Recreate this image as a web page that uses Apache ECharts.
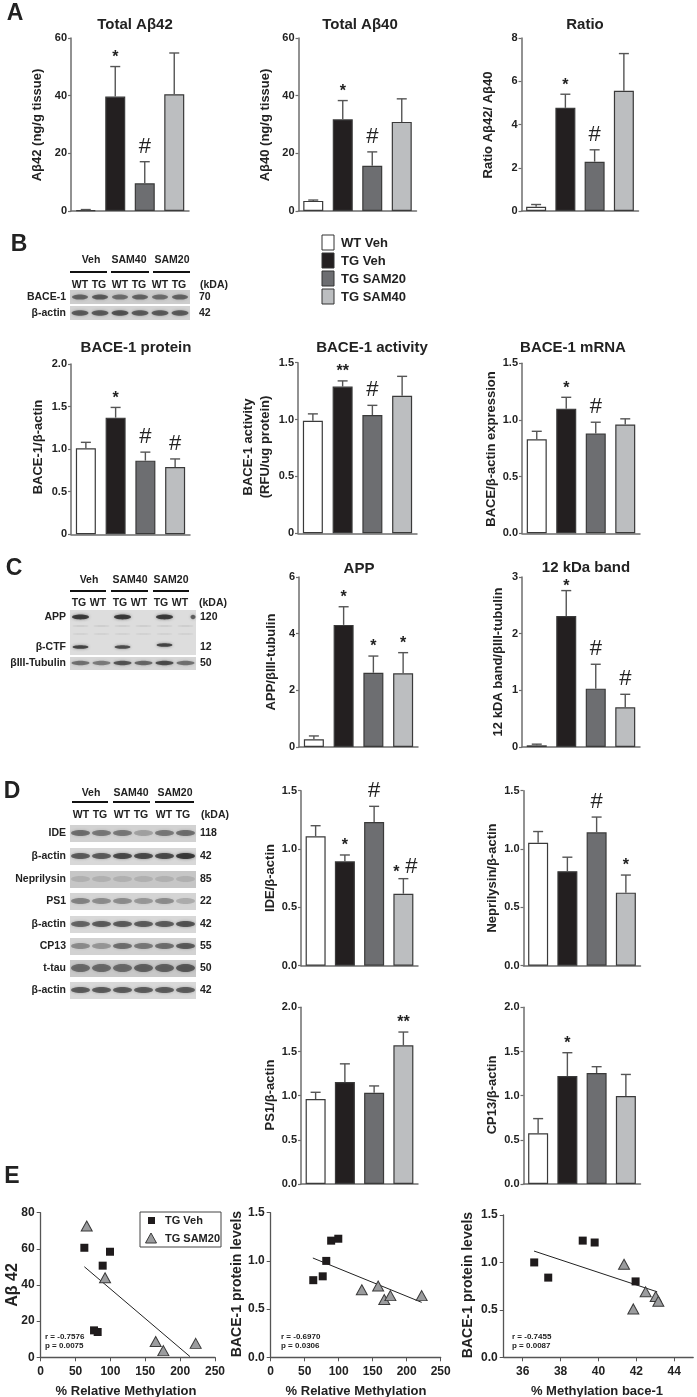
<!DOCTYPE html>
<html><head><meta charset="utf-8">
<script src="https://cdn.jsdelivr.net/npm/echarts@6/dist/echarts.min.js"></script>
<style>html,body{margin:0;padding:0;background:#fff}#c{width:697px;height:1397px}</style>
</head><body><div id="c"></div><script>
// ---------- DATA ----------
const groups = ['WT Veh', 'TG Veh', 'TG SAM20', 'TG SAM40'];

const ab42Mean = [0.3, 39.7, 9.6, 40.5];
const ab42Err  = [0.2, 10.4, 7.5, 14.3];
const ab42Sig  = ['', '*', '#', ''];
const ab40Mean = [3.5, 31.8, 15.7, 30.9];
const ab40Err  = [0.3, 6.5, 4.8, 8.0];
const ab40Sig  = ['', '*', '#', ''];
const ratioMean = [0.2, 4.77, 2.28, 5.56];
const ratioErr  = [0.1, 0.63, 0.55, 1.72];
const ratioSig  = ['', '*', '#', ''];

const baceProtMean = [1.01, 1.37, 0.865, 0.79];
const baceProtErr  = [0.07, 0.12, 0.10, 0.095];
const baceProtSig  = ['', '*', '#', '#'];
const baceActMean = [0.99, 1.29, 1.04, 1.21];
const baceActErr  = [0.06, 0.05, 0.085, 0.17];
const baceActSig  = ['', '**', '#', ''];
const baceMrnaMean = [0.83, 1.10, 0.88, 0.96];
const baceMrnaErr  = [0.07, 0.10, 0.10, 0.05];
const baceMrnaSig  = ['', '*', '#', ''];

const appMean = [0.27, 4.31, 2.62, 2.60];
const appErr  = [0.12, 0.64, 0.59, 0.73];
const appSig  = ['', '*', '*', '*'];
const band12Mean = [0.03, 2.31, 1.03, 0.70];
const band12Err  = [0.02, 0.45, 0.43, 0.23];
const band12Sig  = ['', '*', '#', '#'];

const ideMean = [1.11, 0.895, 1.232, 0.617];
const ideErr  = [0.09, 0.054, 0.134, 0.129];
const ideSig  = ['', '*', '#', '*#'];
const nepMean = [1.054, 0.81, 1.143, 0.626];
const nepErr  = [0.096, 0.12, 0.131, 0.151];
const nepSig  = ['', '', '#', '*'];
const ps1Mean = [0.962, 1.155, 1.033, 1.57];
const ps1Err  = [0.076, 0.205, 0.077, 0.15];
const ps1Sig  = ['', '', '', '**'];
const cp13Mean = [0.574, 1.222, 1.256, 0.996];
const cp13Err  = [0.166, 0.264, 0.072, 0.244];
const cp13Sig  = ['', '*', '', ''];

// correlation panels
const relMethVehX = [62.6, 76.5, 81.7, 88.9, 99.4];
const ab42VehY    = [60.6, 14.9, 14.0, 50.7, 58.4];
const relMethSamX = [66, 92.3, 164.9, 175.9, 222.3];
const ab42SamY    = [72.6, 44, 8.7, 3.7, 7.7];
const ab42Fit     = [[62.6, 50.1], [214.1, 0.4]];

const baceVehY     = [0.80, 0.84, 1.00, 1.21, 1.23];
const relMethSam2X = [134, 158, 167, 176, 222];
const baceSam2Y    = [0.70, 0.74, 0.60, 0.64, 0.64];
const baceFit2     = [[62, 1.03], [222, 0.57]];

const methBaceVehX = [36.61, 37.35, 39.17, 39.8, 41.96];
const baceVeh3Y    = [1.00, 0.84, 1.23, 1.21, 0.80];
const methBaceSamX = [41.35, 41.84, 42.49, 43.02, 43.16];
const baceSam3Y    = [0.98, 0.51, 0.69, 0.64, 0.59];
const baceFit3     = [[36.6, 1.12], [43.1, 0.69]];
const methBaceTicks = [36, 38, 40, 42, 44];

// ---------- STYLE ----------
const F = "'Liberation Sans', Arial, sans-serif";
const FN = "'Liberation Sans Narrow', 'Liberation Sans', Arial, sans-serif";
const fills = ['#ffffff', '#231f20', '#6d6e71', '#bcbec0'];
const AX = '#6e6e6e';

const barCharts = [
  {g:[71, 38, 118, 173], max:60, iv:20, dec:0, zero:'0', m:ab42Mean, e:ab42Err, s:ab42Sig},
  {g:[298.5, 38, 118, 173], max:60, iv:20, dec:0, zero:'0', m:ab40Mean, e:ab40Err, s:ab40Sig},
  {g:[521.5, 38, 117, 173], max:8, iv:2, dec:0, zero:'0', m:ratioMean, e:ratioErr, s:ratioSig},
  {g:[71, 364, 119, 170.3], max:2, iv:0.5, dec:1, zero:'0', m:baceProtMean, e:baceProtErr, s:baceProtSig},
  {g:[298, 362.7, 119, 170.6], max:1.5, iv:0.5, dec:1, zero:'0', m:baceActMean, e:baceActErr, s:baceActSig},
  {g:[522, 363.3, 118, 170], max:1.5, iv:0.5, dec:1, zero:'0.0', m:baceMrnaMean, e:baceMrnaErr, s:baceMrnaSig},
  {g:[299, 577, 119, 170], max:6, iv:2, dec:0, zero:'0', m:appMean, e:appErr, s:appSig},
  {g:[522, 577, 118, 170], max:3, iv:1, dec:0, zero:'0', m:band12Mean, e:band12Err, s:band12Sig, starOff:4},
  {g:[301, 790.7, 117, 175], max:1.5, iv:0.5, dec:1, zero:'0.0', m:ideMean, e:ideErr, s:ideSig},
  {g:[523.5, 790.7, 117, 175], max:1.5, iv:0.5, dec:1, zero:'0.0', m:nepMean, e:nepErr, s:nepSig},
  {g:[301, 1007.3, 117, 176.7], max:2, iv:0.5, dec:1, zero:'0.0', m:ps1Mean, e:ps1Err, s:ps1Sig},
  {g:[523.5, 1007.3, 117, 176.7], max:2, iv:0.5, dec:1, zero:'0.0', m:cp13Mean, e:cp13Err, s:cp13Sig}
];

const grid = [], xAxis = [], yAxis = [], series = [];

barCharts.forEach((c, i) => {
  grid.push({left:c.g[0], top:c.g[1], width:c.g[2], height:c.g[3], containLabel:false});
  xAxis.push({type:'category', gridIndex:i, data:groups,
    axisLine:{lineStyle:{color:AX, width:1.5}},
    axisTick:{alignWithLabel:true, length:5, lineStyle:{color:AX, width:1.2}},
    axisLabel:{show:false}, splitLine:{show:false}});
  yAxis.push({type:'value', gridIndex:i, min:0, max:c.max, interval:c.iv,
    axisLine:{show:true, lineStyle:{color:AX, width:1.5}},
    axisTick:{show:true, length:3, lineStyle:{color:AX, width:1.2}},
    splitLine:{show:false},
    axisLabel:{margin:4, color:'#222', fontFamily:FN, fontWeight:'bold', fontSize:11,
      formatter: v => v === 0 ? c.zero : v.toFixed(c.dec)}});
  series.push({type:'bar', xAxisIndex:i, yAxisIndex:i, barWidth:20, z:2,
    data: c.m.map((v, j) => ({value:v, itemStyle:{color:fills[j], borderColor:'#3a3a3a', borderWidth:1.2}})),
    silent:true});
  series.push({type:'custom', xAxisIndex:i, yAxisIndex:i, z:5, silent:true,
    data: c.m.map((v, j) => [j, v, c.e[j]]),
    renderItem: (params, api) => {
      const j = api.value(0), v = api.value(1), e = api.value(2);
      const b = api.coord([j, v]);
      const t = api.coord([j, v + e]);
      const ch = [
        {type:'line', shape:{x1:b[0], y1:b[1], x2:b[0], y2:t[1]}, style:{stroke:'#555', lineWidth:1.4}},
        {type:'line', shape:{x1:b[0]-5, y1:t[1], x2:b[0]+5, y2:t[1]}, style:{stroke:'#555', lineWidth:1.4}}
      ];
      const s = c.s[params.dataIndex];
      const addT = (txt, x, y) => {
        const star = txt.indexOf('*') >= 0;
        ch.push({type:'text', x:x, y:y, style:{text:txt, fill:'#222',
          font: star ? ('bold 16px ' + F) : ('22px ' + F), align:'center', verticalAlign:'middle',
          textAlign:'center', textVerticalAlign:'middle'}});
      };
      if (s === '*#') {
        addT('*', b[0]-7, t[1]-6);
        addT('#', b[0]+8, t[1]-12);
      } else if (s) {
        const so = c.starOff !== undefined ? c.starOff : 9;
        addT(s, b[0], s.indexOf('*') >= 0 ? t[1]-so : t[1]-15);
      }
      return {type:'group', children:ch};
    }});
});

// scatter grids
const sc = [
  {g:[40.7, 1212.7, 174.3, 144.6], xmin:0, xmax:250, xiv:50, ymax:80, yiv:20, dec:0,
   vx:relMethVehX, vy:ab42VehY, tx:relMethSamX, ty:ab42SamY, fit:ab42Fit},
  {g:[270.7, 1212.7, 170, 144.6], xmin:0, xmax:250, xiv:50, ymax:1.5, yiv:0.5, dec:1,
   vx:relMethVehX, vy:baceVehY, tx:relMethSam2X, ty:baceSam2Y, fit:baceFit2},
  {g:[503.7, 1215, 189.5, 142.3], xmin:35, xmax:45, xiv:1, ymax:1.5, yiv:0.5, dec:1, custom:methBaceTicks,
   vx:methBaceVehX, vy:baceVeh3Y, tx:methBaceSamX, ty:baceSam3Y, fit:baceFit3}
];
sc.forEach((c, k) => {
  const i = barCharts.length + k;
  grid.push({left:c.g[0], top:c.g[1], width:c.g[2], height:c.g[3]});
  const xa = {type:'value', gridIndex:i, min:c.xmin, max:c.xmax, interval:c.xiv,
    axisLine:{lineStyle:{color:'#555', width:1.3}},
    axisTick:{show:true, length:4, lineStyle:{color:'#555'}},
    splitLine:{show:false},
    axisLabel:{margin:8, color:'#222', fontFamily:F, fontWeight:'bold', fontSize:12}};
  if (c.custom) {
    xa.axisLabel.customValues = c.custom;
    xa.axisTick.customValues = c.custom;
  }
  xAxis.push(xa);
  yAxis.push({type:'value', gridIndex:i, min:0, max:c.ymax, interval:c.yiv,
    axisLine:{show:true, lineStyle:{color:'#555', width:1.3}},
    axisTick:{show:true, length:4, lineStyle:{color:'#555'}},
    splitLine:{show:false},
    axisLabel:{margin:6, color:'#222', fontFamily:F, fontWeight:'bold', fontSize:12,
      formatter: v => v.toFixed(c.dec)}});
  series.push({type:'line', xAxisIndex:i, yAxisIndex:i, data:c.fit, showSymbol:false, silent:true,
    lineStyle:{color:'#222', width:1}, z:2});
  series.push({type:'scatter', xAxisIndex:i, yAxisIndex:i, symbol:'rect', symbolSize:8, silent:true,
    data:c.vx.map((x, j) => [x, c.vy[j]]), itemStyle:{color:'#1f1b1c', opacity:1}, z:3});
  series.push({type:'scatter', xAxisIndex:i, yAxisIndex:i, symbol:'triangle', symbolSize:[11, 10], silent:true,
    data:c.tx.map((x, j) => [x, c.ty[j]]), itemStyle:{color:'#9b9c9e', borderColor:'#3a3a3a', borderWidth:1, opacity:1}, z:4});
});

// ---------- GRAPHICS (text, blots, legend) ----------
const G = [];
function txt(t, x, y, font, opt) {
  opt = opt || {};
  G.push({type:'text', x:x, y:y, rotation:opt.rot || 0, z:10, silent:true,
    style:{text:t, font:font, fill:opt.fill || '#222', align:opt.align || 'center', verticalAlign:'middle',
      textAlign:opt.align || 'center', textVerticalAlign:'middle', lineHeight:opt.lh || undefined}});
}
const big = 'bold 23px ' + F;
txt('A', 15, 14, big); txt('B', 19, 245, big); txt('C', 14, 569, big); txt('D', 12, 792, big); txt('E', 12, 1177, big);

const tf = 'bold 15px ' + F;
txt('Total A\u03b242', 135, 25, tf); txt('Total A\u03b240', 360, 25, tf); txt('Ratio', 585, 25, tf);
txt('BACE-1 protein', 136, 348, tf); txt('BACE-1 activity', 372, 348, tf); txt('BACE-1 mRNA', 573, 348, tf);
txt('APP', 359, 569, tf); txt('12 kDa band', 586, 568, tf);

const yf = 'bold 13px ' + F;
const R = Math.PI / 2;
txt('A\u03b242 (ng/g tissue)', 37, 125, yf, {rot:R});
txt('A\u03b240 (ng/g tissue)', 265, 125, yf, {rot:R});
txt('Ratio A\u03b242/ A\u03b240', 488, 125, yf, {rot:R});
txt('BACE-1/\u03b2-actin', 38, 447, yf, {rot:R});
txt('BACE-1 activity\n(RFU/ug protein)', 257, 447, yf, {rot:R, lh:17});
txt('BACE/\u03b2-actin expression', 491, 449, yf, {rot:R});
txt('APP/\u03b2III-tubulin', 271, 662, yf, {rot:R});
txt('12 kDA band/\u03b2III-tubulin', 498, 662, yf, {rot:R});
txt('IDE/\u03b2-actin', 270, 878, yf, {rot:R});
txt('Neprilysin/\u03b2-actin', 492, 878, yf, {rot:R});
txt('PS1/\u03b2-actin', 270, 1095, yf, {rot:R});
txt('CP13/\u03b2-actin', 492, 1095, yf, {rot:R});
txt('A\u03b2 42', 13, 1285, 'bold 16px ' + F, {rot:R});
txt('BACE-1 protein levels', 237, 1284, 'bold 14px ' + F, {rot:R});
txt('BACE-1 protein levels', 468, 1285, 'bold 14px ' + F, {rot:R});
txt('% Relative Methylation', 126, 1391, 'bold 13px ' + F);
txt('% Relative Methylation', 356, 1391, 'bold 13px ' + F);
txt('% Methylation bace-1', 597, 1391, 'bold 13px ' + F);

const sf = 'bold 8px ' + F;
txt('r = -0.7576', 45, 1337, sf, {align:'left'}); txt('p = 0.0075', 45, 1346, sf, {align:'left'});
txt('r = -0.6970', 281, 1337, sf, {align:'left'}); txt('p = 0.0306', 281, 1346, sf, {align:'left'});
txt('r = -0.7455', 512, 1337, sf, {align:'left'}); txt('p = 0.0087', 512, 1346, sf, {align:'left'});

// scatter legend
G.push({type:'rect', shape:{x:140, y:1212, width:81, height:35}, style:{fill:'#fff', stroke:'#444', lineWidth:1}, z:8});
G.push({type:'rect', shape:{x:148, y:1217, width:7, height:7}, style:{fill:'#1f1b1c'}, z:9});
G.push({type:'polygon', shape:{points:[[151,1233],[156.5,1243],[145.5,1243]]}, style:{fill:'#9b9c9e', stroke:'#3a3a3a', lineWidth:1}, z:9});
txt('TG Veh', 165, 1221, 'bold 11px ' + F, {align:'left'});
txt('TG SAM20', 165, 1239, 'bold 11px ' + F, {align:'left'});

// B legend
const legY = [243, 261, 279, 297];
groups.forEach((g, j) => {
  G.push({type:'rect', shape:{x:322, y:legY[j]-8, width:12, height:15}, style:{fill:fills[j], stroke:'#333', lineWidth:1}, z:9});
  txt(g, 341, legY[j], 'bold 13px ' + FN, {align:'left'});
});

// ---- blots ----
const lf = 'bold 10.5px ' + FN;
function header(y, labels, xs, lineY, segs, lanes, laneY, laneXs, kdaX) {
  labels.forEach((l, j) => txt(l, xs[j], y, lf));
  segs.forEach(s => G.push({type:'line', shape:{x1:s[0], y1:lineY, x2:s[1], y2:lineY}, style:{stroke:'#111', lineWidth:2}, z:9}));
  lanes.forEach((l, j) => txt(l, laneXs[j], laneY, lf));
  txt('(kDA)', kdaX, laneY, lf);
}
function band(cx, cy, rx, ry, a) {
  G.push({type:'ellipse', shape:{cx:cx, cy:cy, rx:rx, ry:ry},
    style:{fill:'rgba(35,35,35,' + a + ')', shadowBlur:3, shadowColor:'rgba(35,35,35,' + (a*0.8) + ')'}, z:6, silent:true});
}
function strip(x, y, w, h, bg, cy, laneW, ints, rx, ry, dy) {
  G.push({type:'rect', shape:{x:x, y:y, width:w, height:h}, style:{fill:bg}, z:5, silent:true});
  ints.forEach((a, j) => { if (a > 0) band(x + laneW*(j+0.5), cy + (dy ? dy[j] : 0), rx, ry, a); });
}

// B blot
header(260, ['Veh', 'SAM40', 'SAM20'], [91, 129, 172], 272, [[70,107],[111,149],[153,190]],
  ['WT','TG','WT','TG','WT','TG'], 285, [80, 99, 120, 139, 160, 179], 214);
strip(70, 290, 120, 14, '#cdcdcd', 297, 20, [0.55, 0.6, 0.5, 0.55, 0.5, 0.55], 8, 2.6);
strip(70, 306, 120, 14, '#d3d3d3', 313, 20, [0.6, 0.6, 0.65, 0.6, 0.6, 0.6], 8.5, 2.8);
txt('BACE-1', 66, 297, lf, {align:'right'}); txt('\u03b2-actin', 66, 313, lf, {align:'right'});
txt('70', 199, 297, lf, {align:'left'}); txt('42', 199, 313, lf, {align:'left'});

// C blot
header(580, ['Veh', 'SAM40', 'SAM20'], [89, 130, 171], 591, [[70,106],[111,148],[153,189]],
  ['TG','WT','TG','WT','TG','WT'], 603, [79, 98, 120, 139, 161, 180], 213);
G.push({type:'rect', shape:{x:70, y:610, width:126, height:45}, style:{fill:'#dddddd'}, z:5, silent:true});
[0,1,2,3,4,5].forEach(j => { band(70 + 21*(j+0.5), 626, 8, 1, 0.08); band(70 + 21*(j+0.5), 634, 8, 1, 0.06); });
[0.8, 0, 0.8, 0, 0.8, 0].forEach((a, j) => { if (a) band(70 + 21*(j+0.5), 617, 8.5, 2.4, a); });
band(193, 617, 2.5, 2.2, 0.6);
[0.75, 0, 0.7, 0, 0.75, 0].forEach((a, j) => { if (a) band(70 + 21*(j+0.5), j === 4 ? 645 : 647, 8, 1.8, a); });
strip(70, 657, 126, 13, '#d6d6d6', 663, 21, [0.5, 0.45, 0.65, 0.55, 0.7, 0.5], 9, 2.2);
txt('APP', 66, 617, lf, {align:'right'}); txt('\u03b2-CTF', 66, 647, lf, {align:'right'});
txt('\u03b2III-Tubulin', 66, 663, lf, {align:'right'});
txt('120', 200, 617, lf, {align:'left'}); txt('12', 200, 647, lf, {align:'left'}); txt('50', 200, 663, lf, {align:'left'});

// D blot
header(793, ['Veh', 'SAM40', 'SAM20'], [91, 131, 175], 802, [[72,108],[113,150],[155,194]],
  ['WT','TG','WT','TG','WT','TG'], 815, [81, 100, 122, 141, 164, 183], 215);
const dNames = ['IDE', '\u03b2-actin', 'Neprilysin', 'PS1', '\u03b2-actin', 'CP13', 't-tau', '\u03b2-actin'];
const dKda = ['118', '42', '85', '22', '42', '55', '50', '42'];
const dY = [833, 856, 879, 901, 924, 946, 968, 990];
const dInt = [
  [0.5, 0.45, 0.45, 0.25, 0.45, 0.5],
  [0.6, 0.6, 0.7, 0.7, 0.7, 0.8],
  [0.12, 0.12, 0.12, 0.12, 0.12, 0.12],
  [0.4, 0.35, 0.35, 0.3, 0.35, 0.2],
  [0.55, 0.6, 0.6, 0.6, 0.6, 0.65],
  [0.35, 0.3, 0.5, 0.45, 0.5, 0.6],
  [0.5, 0.5, 0.5, 0.55, 0.55, 0.6],
  [0.6, 0.6, 0.6, 0.6, 0.6, 0.6]
];
const dBg = ['#d2d2d2', '#d8d8d8', '#c6c6c6', '#d4d4d4', '#d8d8d8', '#d2d2d2', '#c8c8c8', '#d8d8d8'];
dY.forEach((y, k) => {
  strip(70, y - 8, 126, 17, dBg[k], y, 21, dInt[k], 9.5, k === 6 ? 4 : 3);
  txt(dNames[k], 66, y, lf, {align:'right'});
  txt(dKda[k], 200, y, lf, {align:'left'});
});

const option = {
  animation:false,
  backgroundColor:'#ffffff',
  textStyle:{fontFamily:F},
  grid:grid, xAxis:xAxis, yAxis:yAxis, series:series,
  graphic:{elements:G}
};
const chart = echarts.init(document.getElementById('c'), null, {renderer:'canvas'});
chart.setOption(option);
</script></body></html>
